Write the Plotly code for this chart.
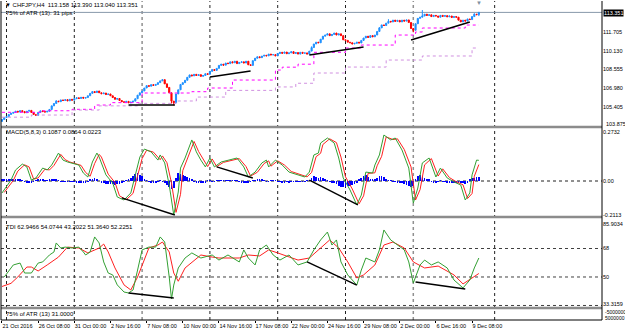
import plotly.graph_objects as go

# ---------------- data ----------------
TIME_LABELS = ["21 Oct 2016", "26 Oct 08:00", "31 Oct 00:00", "2 Nov 16:00", "7 Nov 08:00",
               "10 Nov 00:00", "14 Nov 16:00", "17 Nov 08:00", "22 Nov 00:00", "24 Nov 16:00",
               "29 Nov 08:00", "2 Dec 00:00", "6 Dec 16:00", "9 Dec 08:00"]
TIME_LABEL_BARS = [0, 16, 32, 48, 64, 80, 96, 112, 128, 144, 160, 176, 192, 208]

FIRST_OPEN = 104.20
CLOSE = [
    104.35, 104.52, 104.60, 104.78, 104.88, 104.95, 105.05, 104.98, 105.10, 105.02,
    104.92, 105.05, 105.12, 104.95, 104.78, 104.70, 104.95, 105.08, 105.02, 104.98,
    105.05, 105.20, 105.50, 105.70, 105.90, 105.85, 106.00, 105.95, 106.02, 105.92,
    106.05, 105.98, 106.10, 106.18, 106.12, 106.22, 106.15, 106.20, 106.35, 106.55,
    106.70, 106.62, 106.75, 106.60, 106.52, 106.58, 106.45, 106.50, 106.35, 106.20,
    106.05, 106.12, 105.95, 105.85, 105.80, 105.88, 105.75, 105.82, 105.90, 106.10,
    106.40, 106.60, 106.75, 107.00, 107.20, 107.15, 107.28, 107.22, 107.30, 107.45,
    107.60, 107.70, 107.35, 107.05, 106.60, 105.90, 105.75, 106.50, 106.85, 107.30,
    107.45, 107.65, 107.90, 108.10, 108.02, 108.15, 108.05, 108.12, 107.98, 108.05,
    108.20, 108.15, 108.40, 108.55, 108.48, 108.65, 108.90, 109.00, 108.92, 109.10,
    109.05, 109.20, 109.12, 109.25, 109.05, 109.15, 109.20, 109.10, 109.25, 108.95,
    108.90, 109.30, 109.50, 109.62, 109.55, 109.68, 109.75, 109.70, 109.85, 109.78,
    109.80, 109.70, 109.90, 110.00, 109.92, 110.02, 109.88, 109.95, 110.05, 109.90,
    109.98, 109.85, 110.00, 109.92, 109.95, 109.85, 110.10, 110.40, 110.70, 110.85,
    110.80, 111.10, 111.35, 111.45, 111.55, 111.40, 111.50, 111.62, 111.45, 111.55,
    111.40, 111.05, 111.00, 110.85, 110.80, 110.70, 110.75, 110.85, 110.78, 111.00,
    111.20, 111.35, 111.25, 111.40, 111.30, 111.45, 111.75, 112.05, 112.30, 112.25,
    112.45, 112.60, 112.55, 112.70, 112.60, 112.68, 112.55, 112.70, 112.62, 112.72,
    112.50, 112.00, 111.85, 112.40, 112.85, 112.95, 113.05, 113.20, 113.10, 113.15,
    113.00, 113.10, 113.05, 112.95, 113.10, 113.02, 113.08, 112.98, 113.05, 112.92,
    113.00, 112.95, 112.70, 112.55, 112.70, 112.62, 112.80, 112.75, 113.00, 113.20,
    113.158, 113.351]
HIGH_EXTRA = {24: 105.98, 137: 110.50, 167: 112.12, 171: 112.78, 186: 113.55, 209: 113.28, 211: 113.39}
LOW_EXTRA = {0: 104.15, 75: 105.70, 76: 105.55, 182: 111.68, 211: 113.04}
BID = 113.351

UPPER_STOP_X = [0, 18, 31, 41, 48, 62, 84, 91, 102, 121, 124, 131, 138, 152, 159, 174, 183, 186, 205, 211]
UPPER_STOP_Y = [104.96, 105.09, 105.21, 105.57, 105.77, 106.58, 106.69, 107.00, 107.67, 108.51,
                108.75, 109.00, 110.00, 110.36, 110.61, 111.45, 111.705, 112.04, 112.29, 112.29]
LOWER_STOP_X = [0, 13, 31, 43, 60, 77, 86, 99, 121, 130, 138, 152, 170, 186, 208, 211]
LOWER_STOP_Y = [104.55, 104.73, 105.15, 105.50, 105.71, 105.91, 106.24, 106.80, 107.09, 107.40,
                108.26, 108.76, 109.35, 109.69, 110.36, 110.36]

PRICE_DIV_X = [[56, 76.5], [92, 110], [136, 160], [181, 207]]
PRICE_DIV_Y = [[105.57, 105.57], [107.93, 108.43], [109.77, 110.45], [111.03, 112.55]]

MACD_X = [0, 2, 4, 6, 9, 11, 13, 15, 18, 20, 22, 25, 27, 29, 34, 36, 38, 40, 42, 43,
          46, 49, 51, 54, 57, 59, 61, 63, 66, 69, 70, 72, 74, 76, 78, 79, 81, 84, 86, 88,
          90, 92, 94, 97, 101, 104, 107, 109, 112, 115, 117, 118, 121, 124, 127, 131, 134, 136, 138, 140,
          141, 144, 147, 149, 151, 154, 157, 159, 161, 164, 165, 167, 169, 172, 174, 177, 180, 182, 184, 186,
          189, 192, 194, 197, 200, 203, 205, 207, 208, 210, 211]
MACD_V = [-0.063, -0.032, 0.005, 0.058, 0.089, 0.074, 0.005, 0.016, 0.068, 0.058,
          0.084, 0.147, 0.110, 0.100, 0.084, 0.042, 0.021, 0.100, 0.147, 0.126,
          0.032, -0.011, -0.084, -0.100, -0.063, 0.032, 0.126, 0.168, 0.153, 0.110,
          0.137, 0.095, -0.021, -0.179, -0.058, 0.068, 0.121, 0.216, 0.153, 0.110,
          0.074, 0.121, 0.074, 0.100, 0.110, 0.121, 0.074, 0.021, 0.047, 0.095,
          0.110, 0.074, 0.110, 0.084, 0.047, 0.032, 0.021, 0.047, 0.137, 0.147,
          0.200, 0.226, 0.200, 0.121, 0.016, -0.047, -0.126, -0.074, 0.047, 0.042,
          0.084, 0.137, 0.242, 0.216, 0.226, 0.163, 0.068, -0.116, -0.037, 0.095,
          0.121, 0.021, 0.068, 0.016, -0.005, -0.021, -0.100, -0.063, 0.032, 0.110,
          0.1087]
SIG_X = [1, 3, 5, 7, 10, 12, 14, 16, 19, 21, 23, 26, 28, 30, 35, 37, 39, 41, 43, 44,
         47, 50, 52, 55, 58, 60, 62, 64, 67, 70, 71, 73, 75, 77, 79, 80, 82, 85, 87, 89,
         91, 93, 95, 98, 102, 105, 108, 110, 113, 116, 118, 119, 122, 125, 128, 132, 135, 137, 139, 141,
         142, 145, 148, 150, 152, 155, 158, 160, 162, 165, 166, 168, 170, 173, 175, 178, 181, 183, 185, 187,
         190, 193, 195, 198, 201, 204, 206, 208, 209, 211]
SIG_V = [-0.060, -0.030, 0.003, 0.052, 0.085, 0.074, 0.010, 0.016, 0.062, 0.058,
         0.082, 0.140, 0.112, 0.100, 0.082, 0.045, 0.025, 0.092, 0.140, 0.126,
         0.036, -0.008, -0.078, -0.098, -0.065, 0.028, 0.118, 0.162, 0.152, 0.112,
         0.132, 0.096, -0.010, -0.165, -0.070, 0.055, 0.115, 0.208, 0.155, 0.112,
         0.076, 0.116, 0.076, 0.098, 0.108, 0.118, 0.076, 0.026, 0.046, 0.092,
         0.106, 0.078, 0.106, 0.084, 0.050, 0.033, 0.022, 0.045, 0.128, 0.146,
         0.192, 0.222, 0.202, 0.126, 0.022, -0.042, -0.120, -0.078, 0.040, 0.043,
         0.080, 0.130, 0.232, 0.218, 0.222, 0.166, 0.074, -0.100, -0.045, 0.085,
         0.118, 0.026, 0.064, 0.018, -0.004, -0.020, -0.092, -0.066, 0.025, 0.0864]
HIST = [
    0.007, 0.009, 0.011, 0.012, 0.013, 0.012, 0.011, 0.009, 0.006, 0.003,
    -0.003, -0.007, -0.011, -0.009, -0.003, 0.003, 0.007, 0.009, 0.006, 0.005,
    0.004, 0.006, 0.009, 0.011, 0.007, 0.001, -0.004, -0.005, -0.004, -0.002,
    -0.003, -0.004, -0.005, -0.006, -0.007, -0.008, -0.010, -0.009, -0.005, 0.007,
    0.012, 0.015, 0.009, 0.000, -0.007, -0.012, -0.015, -0.017, -0.018, -0.018,
    -0.019, -0.018, -0.015, -0.009, -0.005, 0.003, 0.009, 0.018, 0.027, 0.036,
    0.040, 0.033, 0.024, 0.012, 0.003, -0.003, -0.006, -0.007, -0.006, -0.003,
    0.003, -0.003, -0.009, -0.021, -0.030, -0.040, -0.036, 0.018, 0.040, 0.036,
    0.030, 0.024, 0.021, 0.018, 0.009, -0.003, -0.009, -0.012, -0.012, -0.011,
    -0.006, 0.003, 0.005, -0.002, -0.004, 0.001, 0.002, 0.003, 0.004, 0.002,
    0.002, 0.003, 0.004, 0.002, 0.002, -0.002, -0.006, -0.008, -0.010, -0.008,
    -0.005, 0.002, 0.005, 0.006, 0.007, 0.006, 0.004, -0.001, -0.004, 0.001,
    0.002, 0.001, -0.002, -0.005, -0.006, -0.006, -0.005, -0.006, -0.005, -0.004,
    -0.005, -0.005, -0.004, -0.003, -0.002, 0.001, 0.005, 0.015, 0.024, 0.021,
    0.018, 0.021, 0.018, 0.009, 0.005, -0.003, -0.007, -0.012, -0.018, -0.024,
    -0.029, -0.033, -0.030, -0.027, -0.024, -0.021, -0.015, -0.006, 0.006, 0.018,
    0.027, 0.030, 0.021, 0.012, 0.009, 0.012, 0.018, 0.024, 0.027, 0.021,
    0.012, 0.005, 0.001, -0.003, -0.005, -0.007, -0.011, -0.013, -0.017, -0.021,
    -0.027, -0.033, -0.024, 0.012, 0.027, 0.030, 0.024, 0.018, 0.012, 0.006,
    -0.003, -0.009, -0.006, -0.003, 0.001, -0.002, -0.005, -0.006, -0.007, -0.007,
    -0.008, -0.009, -0.009, -0.011, -0.013, -0.015, -0.006, 0.009, 0.015, 0.018,
    0.020, 0.0223]
MACD_DIV_X = [[53, 76.5], [95, 111], [136, 157.5]]
MACD_DIV_Y = [[-0.089, -0.179], [0.074, 0.016], [0.005, -0.126]]

TDI_G_X = [1, 5, 8, 10, 13, 16, 18, 21, 23, 24, 26, 28, 31, 34, 36, 37, 39, 41, 43, 45,
           47, 49, 51, 54, 56, 58, 60, 62, 65, 68, 70, 72, 74, 75, 76, 78, 81, 84, 88, 93,
           96, 100, 105, 107, 109, 112, 114, 117, 120, 123, 127, 131, 135, 138, 141, 144, 146, 148, 150, 153,
           157, 159, 161, 165, 167, 169, 172, 175, 178, 180, 182, 185, 187, 190, 193, 197, 200, 204, 207, 209, 211]
TDI_G_V = [50.0, 57.6, 58.8, 52.5, 52.5, 58.8, 59.5, 63.9, 65.8, 71.5,
           68.3, 68.9, 68.3, 68.9, 65.8, 63.9, 65.8, 75.3, 71.5, 59.5,
           52.5, 51.3, 45.0, 40.5, 39.9, 41.8, 54.4, 67.1, 68.9, 68.9,
           75.3, 72.1, 50.0, 36.1, 44.9, 55.7, 62.0, 65.2, 62.0, 63.9,
           60.7, 63.9, 59.5, 67.1, 62.0, 57.6, 67.1, 70.2, 63.9, 60.7,
           63.9, 57.6, 59.5, 67.1, 73.4, 78.4, 70.2, 73.4, 59.5, 51.3,
           44.9, 54.4, 62.0, 59.5, 67.1, 79.7, 73.4, 70.2, 67.1, 59.5,
           46.2, 57.6, 60.7, 57.6, 59.5, 55.7, 48.1, 43.1, 48.1, 55.7, 62.0]
TDI_R_X = [0, 4, 7, 11, 13, 16, 20, 25, 29, 34, 38, 43, 45, 47, 50, 54, 57, 60, 65, 69,
           71, 74, 76, 78, 81, 86, 88, 93, 96, 105, 109, 114, 118, 122, 131, 136, 140, 145, 149, 153,
           157, 160, 165, 169, 173, 178, 182, 187, 193, 200, 204, 211]
TDI_R_V = [44.0, 46.0, 50.0, 56.3, 56.3, 53.8, 57.6, 62.6, 68.9, 68.3,
           65.2, 68.3, 70.8, 65.8, 55.7, 45.0, 41.8, 50.0, 68.3, 70.2,
           72.1, 65.8, 52.5, 47.3, 55.7, 62.0, 63.9, 62.6, 62.0, 62.0,
           63.9, 63.3, 67.1, 65.2, 60.7, 62.0, 67.1, 73.4, 68.3, 59.5,
           49.4, 51.3, 57.6, 70.2, 72.1, 68.3, 59.5, 55.7, 56.9, 51.3, 45.6, 52.2]
TDI_DIV_X = [[56, 76], [135, 157], [183, 205]]
TDI_DIV_Y = [[39.9, 36.7], [59.5, 44.9], [46.8, 42.4]]
TDI_LEVELS = [68, 50, 32]

WEEK_GRID = [2, 32, 62, 92, 122, 152, 182, 218]
SEPARATOR_GRID = [62, 182]

PRICE_TICKS = [111.705, 110.130, 108.555, 106.980, 105.405]

# ---------------- layout helpers (pixel -> paper) ----------------
W, H = 625, 334
ML, MR, MT, MB = 1, 23, 1, 14
def px(X):
    return (X - ML) / (W - ML - MR)
def py(Y):
    return (H - MB - Y) / (H - MT - MB)

FONT = "Liberation Sans, Arial, sans-serif"
GREEN = "#33A033"
RED = "#FF2020"

fig = go.Figure()

# price candles
n = len(CLOSE)
opens = [FIRST_OPEN] + CLOSE[:-1]
highs = [max(o, c, HIGH_EXTRA.get(i, -1e9)) for i, (o, c) in enumerate(zip(opens, CLOSE))]
lows = [min(o, c, LOW_EXTRA.get(i, 1e9)) for i, (o, c) in enumerate(zip(opens, CLOSE))]
fig.add_trace(go.Candlestick(
    x=list(range(n)), open=opens, high=highs, low=lows, close=CLOSE,
    increasing=dict(line=dict(color="#1E90FF", width=1), fillcolor="#1E90FF"),
    decreasing=dict(line=dict(color="#FF0000", width=1), fillcolor="#FF0000"),
    whiskerwidth=0, xaxis="x", yaxis="y", hoverinfo="skip"))

fig.add_trace(go.Scatter(x=UPPER_STOP_X, y=UPPER_STOP_Y, mode="lines", line_shape="hv",
                         line=dict(color="#FF00FF", width=1, dash="dot"), yaxis="y"))
fig.add_trace(go.Scatter(x=LOWER_STOP_X, y=LOWER_STOP_Y, mode="lines", line_shape="hv",
                         line=dict(color="#D090E0", width=1, dash="dot"), yaxis="y"))
for xs, ys in zip(PRICE_DIV_X, PRICE_DIV_Y):
    fig.add_trace(go.Scatter(x=xs, y=ys, mode="lines", line=dict(color="black", width=1.6), yaxis="y"))

# MACD
fig.add_trace(go.Bar(x=list(range(len(HIST))), y=HIST, width=0.3, marker_color="#0000FF",
                     marker_line_width=0, yaxis="y2"))
fig.add_trace(go.Scatter(x=SIG_X, y=SIG_V, mode="lines", line=dict(color=RED, width=1), yaxis="y2"))
fig.add_trace(go.Scatter(x=MACD_X, y=MACD_V, mode="lines", line=dict(color=GREEN, width=1), yaxis="y2"))
for xs, ys in zip(MACD_DIV_X, MACD_DIV_Y):
    fig.add_trace(go.Scatter(x=xs, y=ys, mode="lines", line=dict(color="black", width=1.4), yaxis="y2"))

# TDI
fig.add_trace(go.Scatter(x=TDI_R_X, y=TDI_R_V, mode="lines", line=dict(color=RED, width=1), yaxis="y3"))
fig.add_trace(go.Scatter(x=TDI_G_X, y=TDI_G_V, mode="lines", line=dict(color=GREEN, width=1), yaxis="y3"))
for xs, ys in zip(TDI_DIV_X, TDI_DIV_Y):
    fig.add_trace(go.Scatter(x=xs, y=ys, mode="lines", line=dict(color="black", width=1.4), yaxis="y3"))

# empty ATR panel trace
fig.add_trace(go.Scatter(x=[0], y=[0.5], mode="markers", marker=dict(opacity=0), yaxis="y4"))

shapes = []
for g in WEEK_GRID:
    grey = g in SEPARATOR_GRID
    shapes.append(dict(type="line", xref="x", yref="paper", x0=g, x1=g, y0=0, y1=1,
                       line=dict(color="#909090" if grey else "#202020", width=1.5 if grey else 1, dash="dot"),
                       layer="below"))
shapes.append(dict(type="line", xref="paper", yref="y", x0=0, x1=1, y0=BID, y1=BID,
                   line=dict(color="#8899AA", width=1), layer="below"))
shapes.append(dict(type="line", xref="paper", yref="y2", x0=0, x1=1, y0=0, y1=0,
                   line=dict(color="#202020", width=1, dash="dot"), layer="below"))
for lv in TDI_LEVELS:
    shapes.append(dict(type="line", xref="paper", yref="y3", x0=0, x1=1, y0=lv, y1=lv,
                       line=dict(color="#404040", width=1, dash="dot"), layer="below"))
for Yb in [127, 217, 308]:
    shapes.append(dict(type="line", xref="paper", yref="paper", x0=0, x1=1, y0=py(Yb), y1=py(Yb),
                       line=dict(color="#8C8C8C", width=2.5)))
shapes.append(dict(type="line", xref="paper", yref="paper", x0=0, x1=1, y0=0, y1=0,
                   line=dict(color="black", width=1)))
shapes.append(dict(type="line", xref="paper", yref="paper", x0=0, x1=0, y0=0, y1=1,
                   line=dict(color="black", width=1)))
shapes.append(dict(type="line", xref="paper", yref="paper", x0=1, x1=1, y0=0, y1=1,
                   line=dict(color="black", width=1)))

def ann(text, X, Y, size=6, color="black", anchor="left", **kw):
    d = dict(text=text, x=px(X), y=py(Y), xref="paper", yref="paper", xanchor=anchor,
             yanchor="middle", showarrow=False, font=dict(family=FONT, size=size, color=color))
    d.update(kw)
    return d

annotations = [
    ann("▼ CHFJPY,H4  113.158 113.390 113.040 113.351", 3, 5),
    ann("75% of ATR (13): 31 pips", 4, 13),
    ann("MACD(5,8,3) 0.1087 0.0864 0.0223", 4, 132),
    ann("TDI 62.9466 54.0744 43.2022 51.3640 52.2251", 4, 227),
    ann("75% of ATR (13) 31.0000", 4, 314),
    ann("113.351", 603, 12.7, size=5.5, color="white", bgcolor="black", borderpad=0),
    ann("103.875", 604, 124.5, size=5.5),
    ann("-5000000", 603, 312, size=5),
    ann("5000000", 603, 318, size=5),
    ann("▼", 479, 3, size=6, color="#8090A0", anchor="center"),
]

axis_font = dict(family=FONT, size=5.5, color="black")
fig.update_layout(
    width=W, height=H, margin=dict(l=ML, r=MR, t=MT, b=MB, autoexpand=False),
    paper_bgcolor="white", plot_bgcolor="white", showlegend=False,
    shapes=shapes, annotations=annotations, bargap=0,
    xaxis=dict(domain=[0, 1], range=[-0.44, 265.5], anchor="y4", rangeslider=dict(visible=False),
               tickvals=TIME_LABEL_BARS, ticktext=TIME_LABELS, ticklabelposition="outside right",
               tickangle=0, automargin=False,
               tickfont=axis_font, ticks="outside", ticklen=2, tickcolor="black",
               showgrid=False, zeroline=False, showline=False),
    yaxis=dict(domain=[py(126), 1], range=[103.809, 114.309], side="right", anchor="x",
               tickvals=PRICE_TICKS, ticktext=[f"{v:.3f}" for v in PRICE_TICKS], automargin=False,
               tickfont=axis_font, ticks="", ticklabelstandoff=0,
               showgrid=False, zeroline=False, showline=False),
    yaxis2=dict(domain=[py(216), py(128)], range=[-0.1841, 0.2788], side="right", anchor="x",
                tickvals=[0.2577, 0, -0.178], ticktext=["0.2732", "0.00", "-0.2113"], automargin=False,
                tickfont=axis_font, ticks="", ticklabelstandoff=0,
                showgrid=False, zeroline=False, showline=False),
    yaxis3=dict(domain=[py(307), py(218)], range=[31.04, 87.27], side="right", anchor="x",
                tickvals=[83.5, 68, 50, 33.0], ticktext=["85.9034", "68", "50", "33.3159"], automargin=False,
                tickfont=axis_font, ticks="", ticklabelstandoff=0,
                showgrid=False, zeroline=False, showline=False),
    yaxis4=dict(domain=[0, py(309)], range=[0, 1], side="right", anchor="x", automargin=False,
                showticklabels=False, ticks="", showgrid=False, zeroline=False, showline=False),
)

fig.write_html("out.html")
